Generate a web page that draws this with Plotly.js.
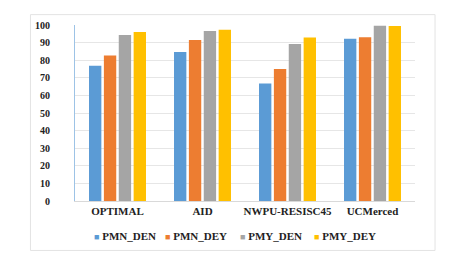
<!DOCTYPE html>
<html>
<head>
<meta charset="utf-8">
<script src="https://cdn.plot.ly/plotly-3.0.1.min.js"></script>
<style>
  html, body { margin: 0; padding: 0; background: #fff; }
  #chart { width: 454px; height: 264px; }
</style>
</head>
<body>
<div id="chart"></div>
<script>
// datasets on the x axis
let categories = ["OPTIMAL", "AID", "NWPU-RESISC45", "UCMerced"];

// series values
let pmnDen = [76.8, 84.6, 66.8, 92.2];
let pmnDey = [82.7, 91.5, 75.0, 93.0];
let pmyDen = [94.3, 96.6, 89.2, 99.6];
let pmyDey = [96.0, 97.3, 92.9, 99.4];

let seriesNames = ["PMN_DEN", "PMN_DEY", "PMY_DEN", "PMY_DEY"];
let seriesColors = ["#5B9BD5", "#ED7D31", "#A5A5A5", "#FFC000"];
let yTicks = [0, 10, 20, 30, 40, 50, 60, 70, 80, 90, 100];

let allSeries = [pmnDen, pmnDey, pmyDen, pmyDey];
let data = allSeries.map(function (vals, i) {
    return {
        type: "bar",
        x: categories,
        y: vals,
        name: seriesNames[i],
        marker: { color: seriesColors[i] },
        hoverinfo: "skip"
    };
});

let font = "'Liberation Serif', 'Times New Roman', serif";

// legend built as annotations so the square sits right next to its label
let legendX = [0.051, 0.26, 0.48, 0.698];
let legendItems = seriesNames.map(function (name, i) {
    return {
        xref: "paper",
        yref: "paper",
        x: legendX[i],
        y: -0.199,
        xanchor: "left",
        yanchor: "middle",
        showarrow: false,
        text: "<span style='color:" + seriesColors[i] + ";font-size:9px'>■</span> " + name,
        font: { family: font, size: 11, color: "#222", weight: "bold" }
    };
});

let layout = {
    width: 454,
    height: 264,
    margin: { l: 75, r: 39, t: 25, b: 63, autoexpand: false },
    paper_bgcolor: "#fff",
    plot_bgcolor: "#fff",
    barmode: "group",
    bargap: 0.3,
    bargroupgap: 0.17,
    showlegend: false,
    annotations: legendItems,
    xaxis: {
        showgrid: false,
        showline: true,
        linecolor: "#d9d9d9",
        ticks: "",
        tickfont: { family: font, size: 11, color: "#222", weight: "bold" },
        zeroline: false
    },
    yaxis: {
        range: [0, 100],
        tickvals: yTicks,
        showgrid: true,
        gridcolor: "#e6e6e6",
        showline: true,
        linecolor: "#9dc3e6",
        zeroline: false,
        ticks: "",
        ticklabelstandoff: 22,
        tickfont: { family: font, size: 10, color: "#222", weight: "bold" }
    },
    shapes: [{
        type: "rect",
        xref: "paper",
        yref: "paper",
        x0: -0.131,
        x1: 1.059,
        y0: -0.281,
        y1: 1.059,
        line: { color: "#e3e3e3", width: 1 }
    }]
};

Plotly.newPlot("chart", data, layout, { displayModeBar: false, staticPlot: true });
</script>
</body>
</html>
